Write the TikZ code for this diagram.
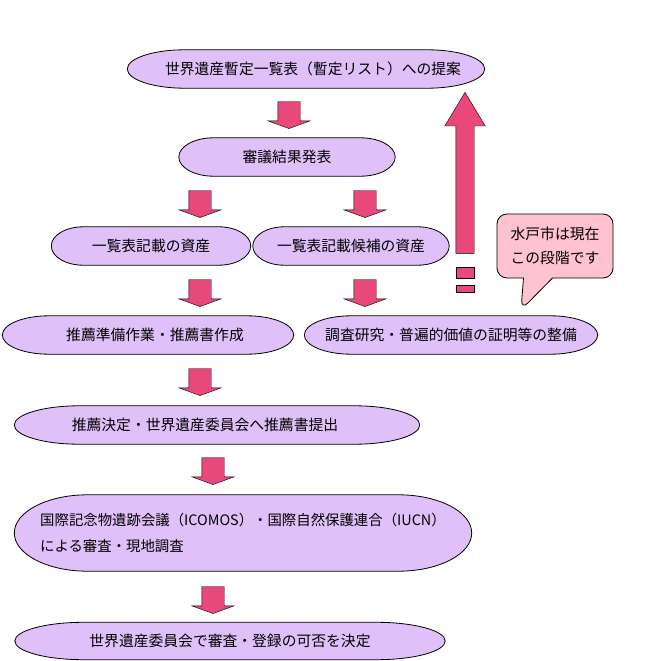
\documentclass[tikz,border=0pt]{standalone}
\usepackage{fontspec}
\setmainfont{Noto Sans CJK JP}
\usetikzlibrary{shapes.arrows,shapes.callouts,backgrounds,calc}

\definecolor{lilac}{RGB}{224,192,248}
\definecolor{rose}{RGB}{232,72,122}
\definecolor{blush}{RGB}{255,194,208}

\tikzset{
  box/.style={minimum height=38pt, inner sep=0pt, font=\fontsize{14.8pt}{26pt}\selectfont},
  down/.style={single arrow, draw, fill=rose, rotate=-90, inner xsep=0pt, inner ysep=11pt,
    minimum height=27pt, single arrow head extend=10pt,
    single arrow tip angle=140},
  stub/.style={draw, fill=rose, inner sep=0pt, minimum width=18pt},
}

\begin{document}
\begin{tikzpicture}[x=1pt,y=-1pt]
\useasboundingbox (0,0) rectangle (662,661);

% steps
\node[box,minimum width=357pt] (prop) at (306,69) {\hspace*{14pt}世界遺産暫定一覧表（暫定リスト）への提案};
\node[box,minimum width=216pt] (result) at (287,157) {審議結果発表};
\node[box,minimum width=199pt] (listed) at (151,246) {一覧表記載の資産};
\node[box,minimum width=196pt] (cand) at (351,246) {一覧表記載候補の資産};
\node[box,minimum width=291pt] (prep) at (148,335) {\hspace*{14pt}推薦準備作業・推薦書作成};
\node[box,minimum width=293pt] (survey) at (451,335) {調査研究・普遍的価値の証明等の整備};
\node[box,minimum width=405pt] (decide) at (217,425) {推薦決定・世界遺産委員会へ推薦書提出\hspace*{24pt}};
\node[box,minimum width=457pt,minimum height=76pt,align=left,
  font=\fontsize{14.4pt}{26pt}\selectfont] (review) at (243,533)
  {国際記念物遺跡会議（ICOMOS）・国際自然保護連合（IUCN）\\による審査・現地調査};
\node[box,minimum width=430pt,minimum height=37pt] (final) at (230,641) {世界遺産委員会で審査・登録の可否を決定};

% outlines behind the text
\begin{scope}[on background layer]
\foreach \b in {prop,result,listed,cand,prep,survey,decide,review,final}
  \path let \p1=(\b.south west), \p2=(\b.north east),
    \n1={0.16*(\x2-\x1)}, \n2={(\y2-\y1)/2} in
    [draw, fill=lilac, line width=0.8pt]
    (\x1+\n1,\y1) -- (\x2-\n1,\y1)
    arc[start angle=-90, end angle=90, x radius=\n1, y radius=\n2]
    -- (\x1+\n1,\y2)
    arc[start angle=90, end angle=270, x radius=\n1, y radius=\n2] -- cycle;
\end{scope}

% arrows
\node[down] (a1) at (289,113) {};
\node[down] (a2) at (200,202) {};
\node[down] (a3) at (365,202) {};
\node[down] (a4) at (200,291) {};
\node[down] (a5) at (365,291) {};
\node[down] (a6) at (200,380) {};
\node[down] (a7) at (213,469) {};
\node[down] (a8) at (213,598) {};

\node[single arrow, draw, fill=rose, rotate=90, inner xsep=0pt, inner ysep=9pt,
  minimum height=161pt, single arrow head extend=11pt,
  single arrow tip angle=62] (back) at (465,180.5) {};
\node[stub, minimum height=11pt] (gap1) at (465,272.5) {};
\node[stub, minimum height=7pt] (gap2) at (465,288.5) {};

% note
\node[rectangle callout, draw, fill=blush, rounded corners=10pt, line width=0.8pt,
  minimum width=116pt, minimum height=64pt, align=center,
  font=\fontsize{14.8pt}{24pt}\selectfont,
  callout absolute pointer={(521,310)}, callout pointer width=29pt] (now) at (555,246)
  {水戸市は現在\\この段階です};
\end{tikzpicture}
\end{document}
